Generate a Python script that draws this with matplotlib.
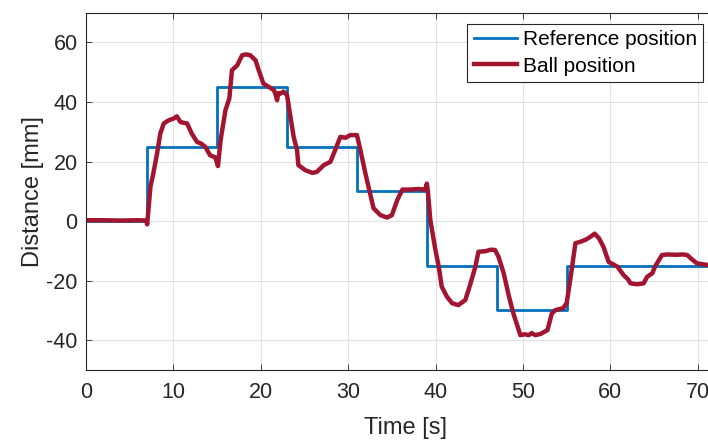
#!/usr/bin/env python3
# -*- coding: utf-8 -*-
"""
Ball position vs reference position (step setpoints).
"""

import numpy as np
import matplotlib
matplotlib.use("Agg")
import matplotlib.pyplot as plt

plt.rcParams['font.family'] = ['Liberation Sans', 'DejaVu Sans']
plt.rcParams['axes.unicode_minus'] = False

# reference steps: value holds from each time until the next one
ref_t = [0, 7, 15, 23, 31, 39, 47, 55, 75]
ref_y = [0, 25, 45, 25, 10, -15, -30, -15, -15]

# ball position
ball_t = [0.0, 2.0, 4.0, 6.0, 6.9, 7.0, 7.37, 7.7, 8.13, 8.5, 8.9, 9.3, 9.66, 10.0, 10.4,
          10.8, 11.2, 11.57, 12.1, 12.7, 13.2, 13.66, 14.2, 14.8, 15.1, 15.4, 15.95,
          16.4, 16.7, 17.3, 17.86, 18.3, 18.8, 19.4, 19.76, 20.3, 20.9, 21.5, 21.7,
          21.86, 22.0, 22.2, 22.6, 23.0, 23.4, 23.76, 24.15, 24.3, 25.1, 25.9, 26.4,
          27.2, 27.96, 28.5, 29.1, 29.7, 30.25, 31.0, 31.4, 31.97, 32.5, 32.9, 33.7,
          34.45, 35.0, 35.6, 36.2, 37.1, 38.0, 38.8, 39.0, 39.1, 39.4, 39.98, 40.36,
          40.7, 41.3, 41.9, 42.6, 43.4, 44.0, 44.55, 44.9, 45.7, 46.3, 46.8, 47.2,
          47.8, 48.4, 48.9, 49.7, 50.2, 50.65, 51.0, 51.4, 52.0, 52.8, 53.3, 53.7,
          54.6, 55.0, 55.4, 56.0, 56.6, 57.2, 57.7, 58.2, 58.7, 59.2, 59.8,
          60.3, 60.8, 61.5, 62.0, 62.3, 63.05, 63.8, 64.2, 64.8, 65.1, 65.9, 66.5,
          67.5, 68.3, 68.8, 69.2, 69.9, 71.2, 73.0]
ball_y = [0.3, 0.3, 0.2, 0.3, 0.2, -1.1, 11.5, 16.0, 22.7, 29.4, 32.8, 33.6, 34.1, 34.4, 35.2,
          33.3, 33.0, 32.8, 29.4, 26.6, 26.0, 24.9, 22.1, 21.4, 18.5, 27.2, 37.2,
          41.2, 50.7, 52.3, 55.7, 56.0, 55.7, 54.0, 50.7, 46.2, 45.1, 44.0, 42.5,
          40.6, 43.0, 42.8, 43.5, 42.3, 35.0, 28.3, 23.8, 18.8, 17.1, 16.2, 16.5,
          18.8, 19.9, 23.8, 28.3, 28.0, 28.9, 28.9, 23.8, 16.0, 9.3, 4.3, 2.0,
          1.2, 2.0, 7.0, 10.6, 10.6, 10.8, 10.6, 12.6, 10.5, 0.3, -9.7, -15.3,
          -22.0, -25.4, -27.6, -28.2, -26.5, -20.9, -15.3, -10.3, -10.1, -9.6, -9.7, -12.0,
          -17.6, -25.4, -31.0, -38.3, -38.0, -38.3, -37.6, -38.3, -37.9, -36.6, -31.0, -29.9,
          -29.2, -27.5, -19.8, -7.4, -6.9, -6.2, -5.3, -4.2, -5.8, -8.6, -13.7,
          -14.5, -15.3, -18.1, -19.5, -20.9, -21.2, -20.9, -18.7, -17.5, -15.3, -11.4, -11.2,
          -11.3, -11.2, -11.4, -12.5, -14.2, -14.8, -14.9]

BLUE = '#0072BD'
RED = '#A2142F'
DARK = '#262626'

W, H = 708, 442
fig = plt.figure(figsize=(W / 100, H / 100), dpi=100)
# axes runs past the right edge of the figure, like the source image
ax = fig.add_axes([86 / W, 72 / H, 640 / W, 357.3 / H])

ax.plot(ref_t, ref_y, drawstyle='steps-post', color=BLUE, lw=2.0, label='Reference position')
ax.plot(ball_t, ball_y, color=RED, lw=3.2, label='Ball position', solid_joinstyle='round')

ax.set_xlim(0, 640 / 8.74)
ax.set_ylim(-50, 70)
ax.set_xticks(np.arange(0, 71, 10))
ax.set_yticks(np.arange(-40, 61, 20))
ax.grid(True, color='#e0e0e0', lw=0.8)
ax.set_axisbelow(True)

for s in ax.spines.values():
    s.set_color(DARK)
    s.set_linewidth(0.8)
ax.tick_params(direction='in', length=4.5, width=0.6, color=DARK, labelcolor=DARK,
               labelsize=15.5, top=True, right=True, pad=6)
ax.tick_params(axis='x', pad=9)

ax.set_xlabel('Time [s]', fontsize=17, color=DARK, labelpad=10)
ax.set_ylabel('Distance [mm]', fontsize=17, color=DARK, labelpad=2)

leg = ax.legend(loc='upper right', bbox_to_anchor=(703 / W, 1 - 24 / H),
                bbox_transform=fig.transFigure, borderaxespad=0, fontsize=15,
                fancybox=False, edgecolor=DARK, framealpha=1, handlelength=2.1,
                handletextpad=0.25, labelspacing=0.35, borderpad=0.3)
leg.get_frame().set_linewidth(0.8)
for t in leg.get_texts():
    t.set_color('black')

fig.savefig('out.png', dpi=100)
